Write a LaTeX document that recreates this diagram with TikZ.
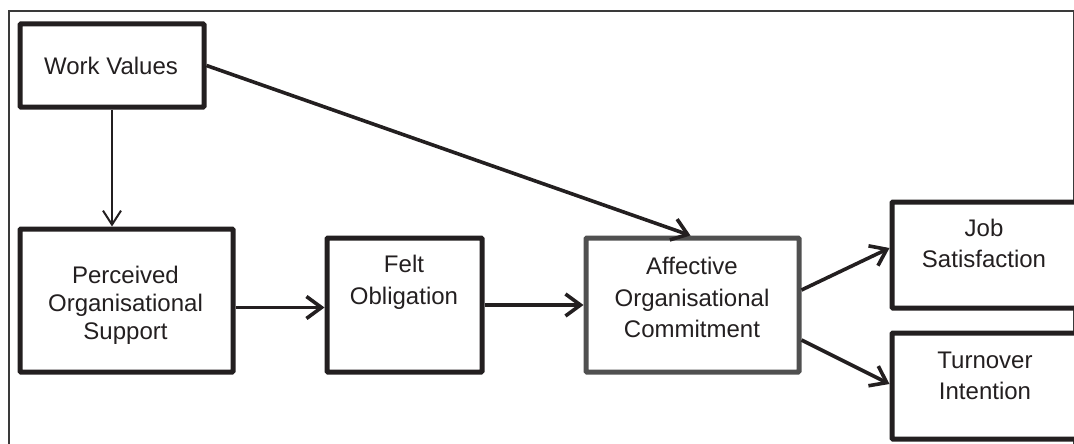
\documentclass[tikz,border=0pt]{standalone}
\usepackage{fontspec}
\setmainfont{Liberation Sans}
\usetikzlibrary{arrows.meta,calc}
\definecolor{ink}{HTML}{231F20}
\definecolor{grayline}{HTML}{505050}
\definecolor{framecol}{HTML}{3A3A3A}
\begin{document}
\begin{tikzpicture}[x=1pt,y=-1pt,
  box/.style={draw=ink,line width=5pt,rounded corners=1pt,inner sep=0pt,fill=white},
  txt/.style={text=ink,align=center,inner sep=0pt,anchor=north,font=\fontsize{24}{31.5}\selectfont},
  conn/.style={draw=ink,line width=3.6pt,-{Straight Barb[length=15pt,width=22pt,line width=3.6pt]}},
  thinconn/.style={draw=ink,line width=2pt,-{Straight Barb[length=14pt,width=18pt,line width=2pt]}}]
\useasboundingbox (0,0) rectangle (1074,444);
\draw[framecol,line width=1.3pt] (9,460) -- (9,11) -- (1073.5,11) -- (1073.5,460);
% boxes
\node[box,minimum width=184pt,minimum height=83pt] (wv) at (112,65.5) {};
\node[box,minimum width=213pt,minimum height=143pt] (pos) at (126.5,300.5) {};
\node[box,minimum width=155pt,minimum height=134pt] (felt) at (404.5,305) {};
\node[box,draw=grayline,minimum width=213pt,minimum height=134pt] (aoc) at (692.5,305) {};
\node[box,minimum width=188pt,minimum height=106pt] (job) at (986,255) {};
\node[box,minimum width=188pt,minimum height=106pt] (ti) at (986,386) {};
% labels
\node[txt] (wvt) at (111,57) {Work Values};
\node[txt,font=\fontsize{24}{28}\selectfont] (post) at (125.5,266) {Perceived\\Organisational\\Support};
\node[txt] (feltt) at (404,255) {Felt\\Obligation};
\node[txt] (aoct) at (692,257) {Affective\\Organisational\\Commitment};
\node[txt] (jobt) at (984,218.5) {Job\\Satisfaction};
\node[txt] (tit) at (985,351.5) {Turnover\\Intention};
% connectors
\coordinate (posout) at ([yshift=-7pt]pos.east);
\draw[thinconn] (wv.south) -- (wv.south |- pos.north);
\draw[conn] (posout) -- (posout -| felt.west);
\draw[conn] (felt.east) -- (aoc.west);
\draw[conn] (wv.east) -- ([xshift=-2pt]aoc.north);
\draw[conn] ([yshift=15pt]aoc.east) -- ([yshift=7pt]job.west);
\draw[conn] ([yshift=-35pt]aoc.east) -- ([yshift=2pt]ti.west);
\end{tikzpicture}
\end{document}
